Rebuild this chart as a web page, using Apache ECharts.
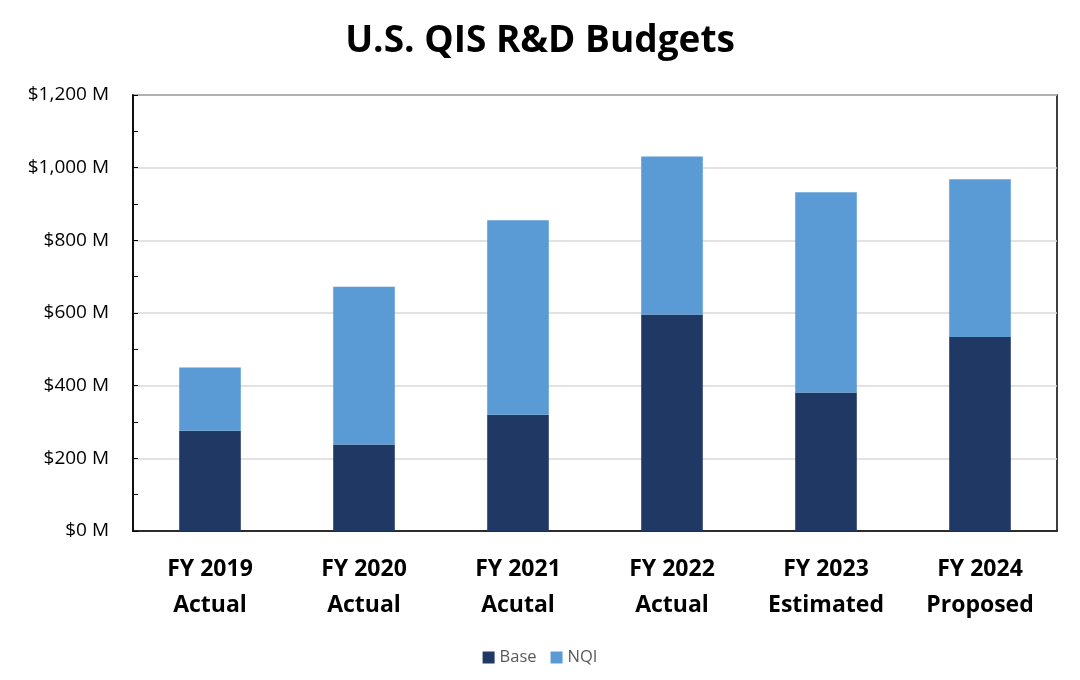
<!DOCTYPE html>
<html><head><meta charset="utf-8">
<script src="https://cdn.jsdelivr.net/npm/echarts@6/dist/echarts.min.js"></script>
<style>html,body{margin:0;padding:0;background:#fff}#c{width:1080px;height:680px}</style>
</head><body><div id="c"></div>
<script>
const categories = ['FY 2019\nActual','FY 2020\nActual','FY 2021\nAcutal','FY 2022\nActual','FY 2023\nEstimated','FY 2024\nProposed'];
const baseValues = [276, 238, 320, 596, 381, 534];
const nqiValues = [174, 434, 535, 435, 551, 434];
const yTicks = [0, 200, 400, 600, 800, 1000, 1200];

const chart = echarts.init(document.getElementById('c'));
chart.setOption({
  backgroundColor: '#fff',
  animation: false,
  title: {text: 'U.S. QIS R&D Budgets', left: 'center', top: 18,
    textStyle: {fontFamily: 'Open Sans', fontWeight: 'bold', fontSize: 37, color: '#000'}},
  legend: {bottom: 9, left: 'center', itemWidth: 12, itemHeight: 12, itemGap: 14, icon: 'rect',
    textStyle: {fontFamily: 'Open Sans', fontSize: 16.5, color: '#595959'},
    data: ['Base', 'NQI']},
  grid: {left: 133, right: 23, top: 95, bottom: 149, show: true, borderColor: '#000', borderWidth: 1.5},
  xAxis: {type: 'category', data: categories,
    axisLine: {lineStyle: {color: '#000', width: 1.5}}, axisTick: {show: false},
    axisLabel: {fontFamily: 'Open Sans', fontWeight: 'bold', fontSize: 23, color: '#000', lineHeight: 36, margin: 20}},
  yAxis: {type: 'value', min: yTicks[0], max: yTicks[yTicks.length-1], interval: 200,
    axisLine: {show: true, lineStyle: {color: '#000', width: 1.5}},
    axisTick: {show: true, inside: true, length: 5, lineStyle: {color: '#000'}},
    minorTick: {show: true, splitNumber: 2, length: 5, lineStyle: {color: '#000'}},
    splitLine: {lineStyle: {color: '#d9d9d9', width: 1.5}},
    axisLabel: {fontFamily: 'Open Sans', fontSize: 19, color: '#000', margin: 24,
      formatter: v => '$' + v.toLocaleString('en-US') + ' M'}},
  series: [
    {name: 'Base', type: 'bar', stack: 't', data: baseValues, barWidth: '40%', itemStyle: {color: '#203864'}},
    {name: 'NQI', type: 'bar', stack: 't', data: nqiValues, barWidth: '40%', itemStyle: {color: '#5B9BD5'}}
  ]
});
</script></body></html>
